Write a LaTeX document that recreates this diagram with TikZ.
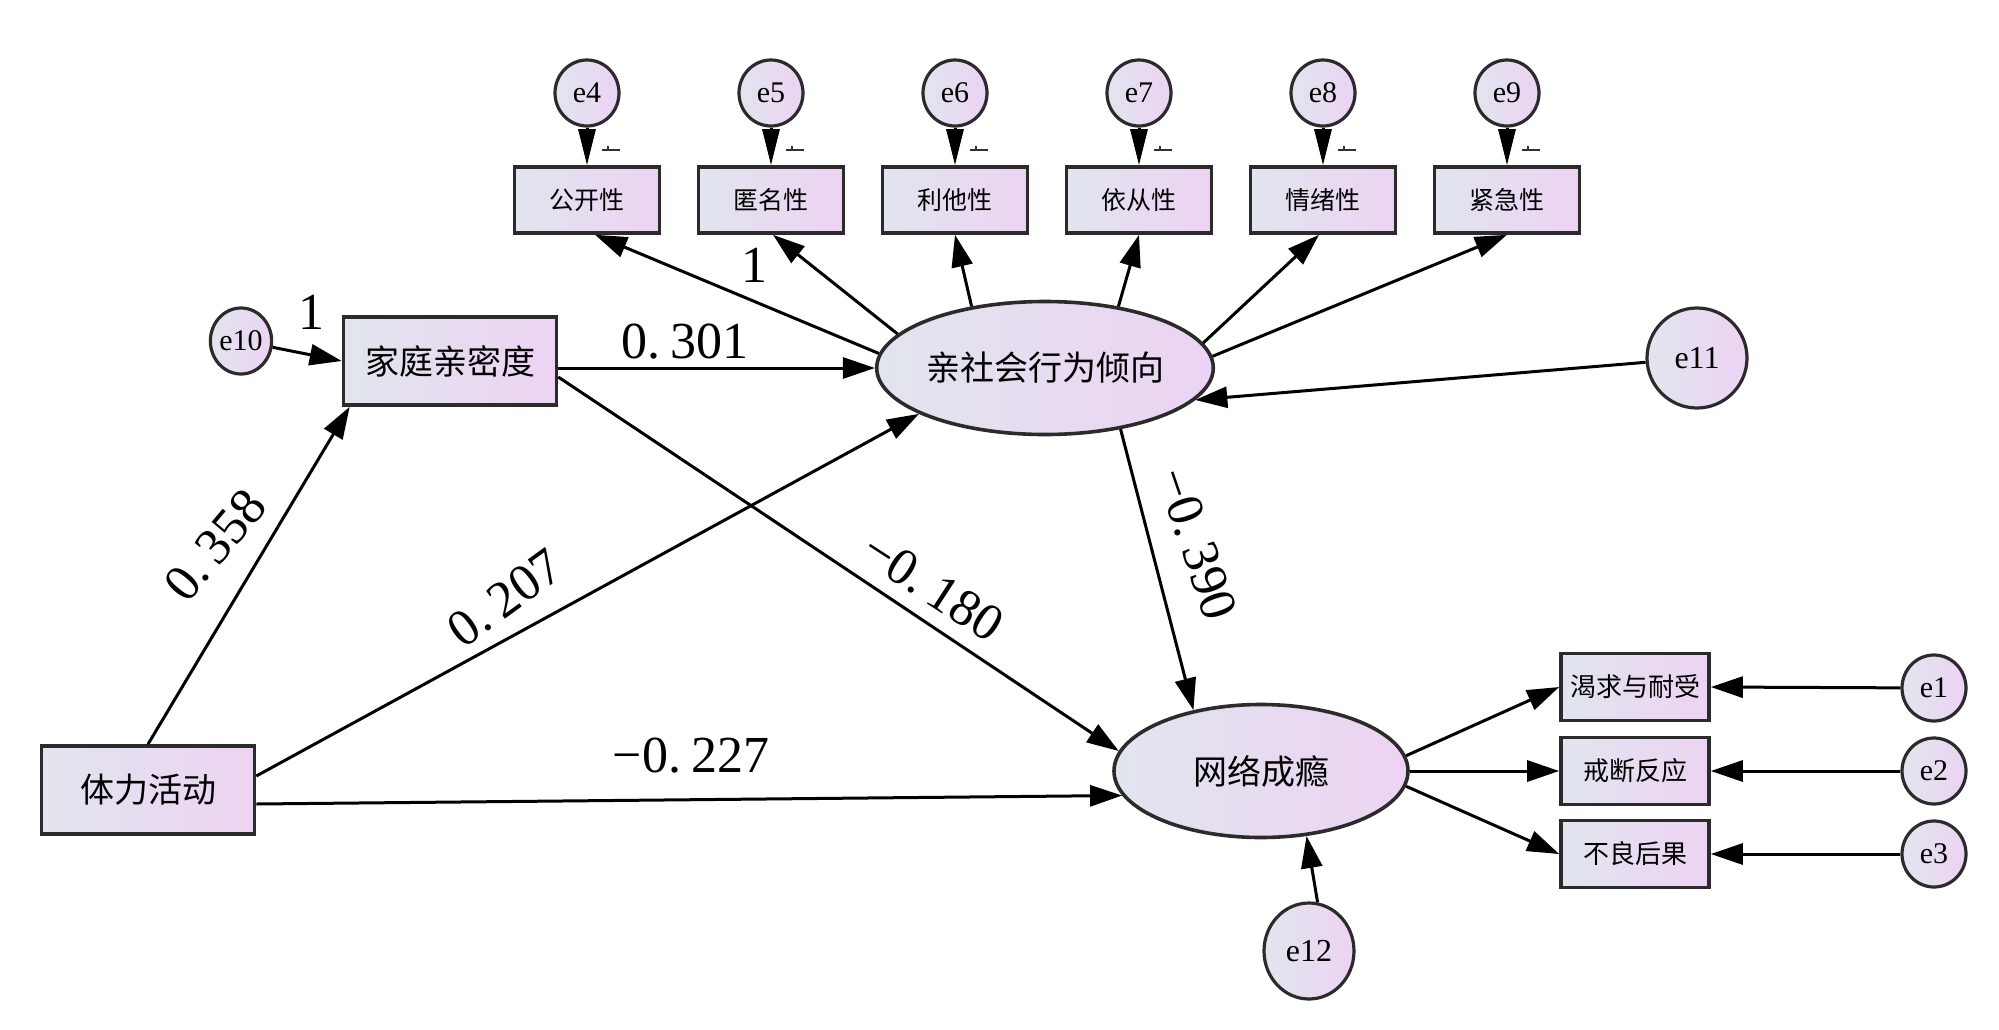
\documentclass[tikz,border=0pt]{standalone}
\usepackage{fontspec}
\setmainfont{Liberation Serif}
\newfontfamily\cjk{Noto Sans CJK SC}
\usetikzlibrary{arrows.meta,shapes.geometric,calc}
\definecolor{boxL}{HTML}{E1E5EE}
\definecolor{boxR}{HTML}{EDD3F3}
\definecolor{edgec}{HTML}{2B2B2B}
\begin{document}
\begin{tikzpicture}[x=0.5pt,y=-0.5pt,
  fillgrad/.style={left color=boxL,right color=boxR,draw=edgec,line width=1.8pt},
  obsbox/.style={fillgrad,rectangle,inner sep=0pt,minimum width=72.5pt,minimum height=33pt,font=\cjk\fontsize{12.5}{14}\selectfont},
  bigbox/.style={fillgrad,rectangle,inner sep=0pt,minimum width=106.5pt,minimum height=44pt,font=\cjk\fontsize{17}{20}\selectfont},
  rbox/.style={fillgrad,rectangle,inner sep=0pt,minimum width=74pt,minimum height=33.5pt,font=\cjk\fontsize{13}{15}\selectfont},
  latent/.style={fillgrad,ellipse,inner sep=0pt,minimum width=147pt,minimum height=66.5pt,font=\cjk\fontsize{17}{20}\selectfont},
  err/.style={fillgrad,ellipse,inner sep=0pt,line width=1.6pt,font=\fontsize{15}{17}\selectfont},
  esmall/.style={err,minimum width=32pt,minimum height=33pt},
  coef/.style={font=\fontsize{26}{28}\selectfont,inner sep=0pt},
  arr/.style={line width=1.5pt,-{Triangle[length=16pt,width=10.5pt]}},
  arrlong/.style={line width=1.5pt,-{Triangle[length=18pt,width=8.5pt]}},
  tick/.style={line width=1.1pt,draw=black!80}
]
\fill[white] (0,0) rectangle (1999,1029);
\useasboundingbox (0,0) rectangle (1999,1029);

% top error terms and indicators
\node[esmall] (e4) at (587,93) {e4};
\node[esmall] (e5) at (771,93) {e5};
\node[esmall] (e6) at (955,93) {e6};
\node[esmall] (e7) at (1139,93) {e7};
\node[esmall] (e8) at (1323,93) {e8};
\node[esmall] (e9) at (1507,93) {e9};
\node[obsbox] (b1) at (587,200) {公开性};
\node[obsbox] (b2) at (771,200) {匿名性};
\node[obsbox] (b3) at (955,200) {利他性};
\node[obsbox] (b4) at (1139,200) {依从性};
\node[obsbox] (b5) at (1323,200) {情绪性};
\node[obsbox] (b6) at (1507,200) {紧急性};

% main constructs
\node[bigbox] (fam) at (450,361) {家庭亲密度};
\node[err,minimum width=30pt,minimum height=33pt] (e10) at (241,341) {e10};
\node[latent] (pro) at (1045,368) {亲社会行为倾向};
\node[err,minimum size=50pt,font=\fontsize{16}{18}\selectfont] (e11) at (1697,358) {e11};
\node[latent] (net) at (1261,771) {网络成瘾};
\node[bigbox] (phys) at (148,790) {体力活动};
\node[err,minimum width=45pt,minimum height=48pt,font=\fontsize{16}{18}\selectfont] (e12) at (1309,951) {e12};

% addiction indicators
\node[rbox] (r1) at (1635,687) {渴求与耐受};
\node[rbox] (r2) at (1635,771) {戒断反应};
\node[rbox] (r3) at (1635,854) {不良后果};
\node[esmall] (e1) at (1934,688) {e1};
\node[esmall] (e2) at (1934,771) {e2};
\node[esmall] (e3) at (1934,854) {e3};

% error -> indicator arrows (top)
\foreach \e/\b in {e4/b1,e5/b2,e6/b3,e7/b4,e8/b5,e9/b6}{
  \draw[arrlong] (\e.south) -- (\b.north);
  \draw[tick] ($(\e.south)+(15,22)$) -- ++(18,0);
  \draw[tick] ($(\e.south)+(21,22)$) -- ++(0,-4);
}

% latent -> top indicators
\draw[arr] (pro.175) -- ([xshift=4pt]b1.south);
\draw[arr] (pro.167) -- ([xshift=1pt]b2.south);
\draw[arr] (pro.140) -- (b3.south);
\draw[arr] (pro.40) -- (b4.south);
\draw[arr] (pro.9) -- ([xshift=-2pt]b5.south);
\draw[arr] (pro.4) -- (b6.south);
\draw[arr] (e11) -- (pro.348);

% structural paths
\draw[arr] (e10) -- (fam.west);
\draw[arr] (fam.east |- pro.west) -- (pro.west);
\draw[arr] (phys.north) -- ([xshift=4pt]fam.south west);
\draw[arr] ([yshift=7pt]phys.east) -- (pro.200);
\draw[arr] ([yshift=-7pt]phys.east) -- (net.190);
\draw[arr] ([yshift=-8pt]fam.east) -- (net.172);
\draw[arr] (pro.-39) -- (net.138);
\draw[arr] (e12.80) -- (net.-55);

% addiction indicators
\draw[arr] (net.6) -- (r1.west);
\draw[arr] (net.east) -- (r2.west);
\draw[arr] (net.-6) -- (r3.west);
\draw[arr] (e1) -- (r1.east);
\draw[arr] (e2) -- (r2.east);
\draw[arr] (e3) -- (r3.east);

% coefficients
\node[coef] (l1a) at (311,312) {1};
\node[coef] (l1b) at (754,265) {1};
\node[coef] (l301) at (685,342) {0.\kern5pt 301};
\node[coef,rotate=50] (l358) at (215,545) {0.\kern5pt 358};
\node[coef,rotate=36] (l207) at (505,598) {0.\kern5pt 207};
\node[coef,rotate=-33] (l180) at (933,587) {−0.\kern5pt 180};
\node[coef,rotate=-71] (l390) at (1197,544) {−0.\kern5pt 390};
\node[coef] (l227) at (691,756) {−0.\kern5pt 227};
\end{tikzpicture}
\end{document}
